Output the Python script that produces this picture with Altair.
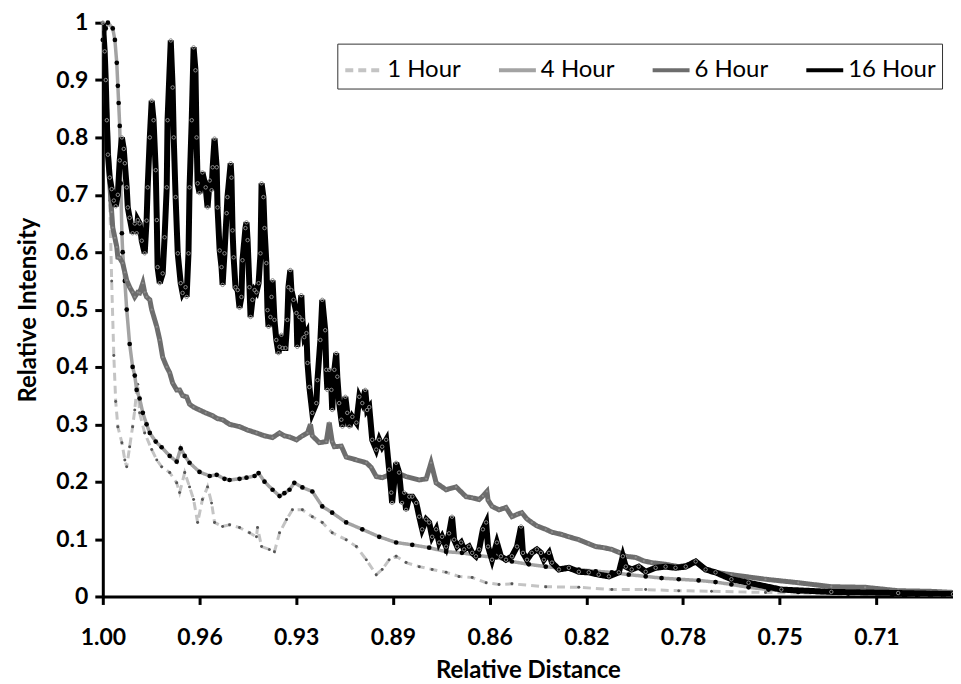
import altair as alt
import pandas as pd

SERIES = ["1 Hour", "4 Hour", "6 Hour", "16 Hour"]
COLORS = ["#c4c4c4", "#a3a3a3", "#6d6d6d", "#000000"]
DASHES = [[8, 5], [1, 0], [1, 0], [1, 0]]
X_TICKS = [1.0, 0.964, 0.928, 0.892, 0.856, 0.82, 0.784, 0.748, 0.712]
Y_TICKS = [0, 0.1, 0.2, 0.3, 0.4, 0.5, 0.6, 0.7, 0.8, 0.9, 1.0]

# ---- 1 Hour ----
h1_x = [1.0, 0.9993, 0.9985, 0.9981, 0.9974, 0.9967, 0.9959, 0.9952, 0.9944, 0.9929,
        0.9918, 0.9911, 0.9900, 0.9889, 0.9881, 0.9874, 0.9870, 0.9863, 0.9844, 0.9818,
        0.9799, 0.9781, 0.9751, 0.9725, 0.9714, 0.9695, 0.9677, 0.9662, 0.9647, 0.9629,
        0.9610, 0.9595, 0.9584, 0.9554, 0.9528, 0.9491, 0.9454, 0.9428, 0.9424, 0.9409,
        0.9380, 0.9361, 0.9342, 0.9316, 0.9294, 0.9257, 0.9220, 0.9183, 0.9146, 0.9094,
        0.9056, 0.9019, 0.8982, 0.8960, 0.8934, 0.8908, 0.8871, 0.8822, 0.8774, 0.8722,
        0.8674, 0.8625, 0.8573, 0.8525, 0.8477, 0.8351, 0.8228, 0.8105, 0.7979, 0.7856,
        0.7734, 0.7533, 0.7288, 0.7039, 0.6835]
h1_y = [1.0, 0.92, 0.85, 0.80, 0.69, 0.55, 0.42, 0.34, 0.296, 0.268,
        0.238, 0.226, 0.261, 0.296, 0.325, 0.36, 0.37, 0.32, 0.285, 0.256,
        0.238, 0.226, 0.216, 0.198, 0.181, 0.216, 0.191, 0.169, 0.129, 0.169,
        0.191, 0.163, 0.129, 0.122, 0.125, 0.12, 0.111, 0.104, 0.12, 0.087,
        0.082, 0.078, 0.111, 0.134, 0.151, 0.151, 0.139, 0.129, 0.111, 0.099,
        0.087, 0.064, 0.038, 0.047, 0.064, 0.07, 0.059, 0.052, 0.047, 0.042,
        0.035, 0.033, 0.024, 0.021, 0.022, 0.017, 0.016, 0.012, 0.012, 0.01,
        0.009, 0.007, 0.005, 0.003, 0.002]

# ---- 4 Hour ----
h4_x = [1.0, 0.9989, 0.9981, 0.9963, 0.9955, 0.9948, 0.9944, 0.9941, 0.9937, 0.9933,
        0.9929, 0.9926, 0.9918, 0.9911, 0.9900, 0.9889, 0.9881, 0.9874, 0.9863, 0.9851,
        0.9837, 0.9825, 0.9803, 0.9781, 0.9751, 0.9725, 0.9710, 0.9695, 0.9677, 0.9640,
        0.9602, 0.9576, 0.9547, 0.9528, 0.9491, 0.9465, 0.9435, 0.9420, 0.9398, 0.9368,
        0.9342, 0.9324, 0.9305, 0.9287, 0.9257, 0.9220, 0.9183, 0.9146, 0.9094, 0.9034,
        0.8971, 0.8908, 0.8848, 0.8785, 0.8722, 0.8663, 0.8599, 0.8536, 0.8477, 0.8414,
        0.8351, 0.8291, 0.8228, 0.8165, 0.8105, 0.8042, 0.7979, 0.7920, 0.7856, 0.7782,
        0.7719, 0.7660, 0.7596, 0.7522, 0.7411, 0.7225, 0.7039, 0.6835]
h4_y = [0.97, 0.99, 1.0, 0.99, 0.97, 0.93, 0.89, 0.86, 0.82, 0.72,
        0.633, 0.60, 0.55, 0.50, 0.44, 0.40, 0.385, 0.36, 0.345, 0.32,
        0.30, 0.285, 0.27, 0.26, 0.245, 0.235, 0.258, 0.245, 0.233, 0.217,
        0.21, 0.212, 0.205, 0.203, 0.205, 0.207, 0.21, 0.215, 0.20, 0.186,
        0.175, 0.18, 0.186, 0.198, 0.19, 0.183, 0.157, 0.146, 0.129, 0.117,
        0.104, 0.094, 0.09, 0.085, 0.078, 0.076, 0.071, 0.068, 0.061, 0.056,
        0.052, 0.049, 0.047, 0.044, 0.042, 0.038, 0.035, 0.032, 0.03, 0.028,
        0.025, 0.021, 0.016, 0.012, 0.008, 0.005, 0.004, 0.003]

# ---- 6 Hour ----
h6_x = [1.0, 0.9996, 0.9989, 0.9981, 0.9974, 0.9967, 0.9963, 0.9955, 0.9948, 0.9944,
        0.9937, 0.9926, 0.9918, 0.9911, 0.9900, 0.9889, 0.9881, 0.9870, 0.9863, 0.9851,
        0.9844, 0.9837, 0.9825, 0.9818, 0.9799, 0.9788, 0.9777, 0.9762, 0.9751, 0.9740,
        0.9725, 0.9714, 0.9703, 0.9688, 0.9677, 0.9662, 0.9640, 0.9617, 0.9591, 0.9573,
        0.9554, 0.9528, 0.9491, 0.9461, 0.9428, 0.9398, 0.9368, 0.9342, 0.9324, 0.9305,
        0.9279, 0.9257, 0.9238, 0.9227, 0.9220, 0.9194, 0.9168, 0.9157, 0.9146, 0.9138,
        0.9112, 0.9094, 0.9056, 0.9019, 0.9001, 0.8982, 0.8960, 0.8934, 0.8908, 0.8871,
        0.8822, 0.8796, 0.8778, 0.8759, 0.8722, 0.8685, 0.8648, 0.8625, 0.8599, 0.8585,
        0.8570, 0.8566, 0.8551, 0.8525, 0.8499, 0.8477, 0.8458, 0.8440, 0.8421, 0.8403,
        0.8384, 0.8351, 0.8328, 0.8291, 0.8265, 0.8228, 0.8191, 0.8165, 0.8135, 0.8105,
        0.8079, 0.8053, 0.8016, 0.7986, 0.7957, 0.7905, 0.7856, 0.7819, 0.7793, 0.7764,
        0.7734, 0.7660, 0.7533, 0.7411, 0.7288, 0.7162, 0.7039, 0.6917, 0.6835]
h6_y = [1.0, 0.95, 0.88, 0.80, 0.72, 0.67, 0.643, 0.625, 0.609, 0.591,
        0.59, 0.581, 0.565, 0.551, 0.539, 0.53, 0.522, 0.53, 0.529, 0.546,
        0.53, 0.522, 0.517, 0.50, 0.47, 0.447, 0.417, 0.40, 0.39, 0.372,
        0.36, 0.36, 0.35, 0.348, 0.335, 0.33, 0.325, 0.32, 0.315, 0.31,
        0.308, 0.30, 0.296, 0.29, 0.285, 0.28, 0.277, 0.285, 0.28, 0.278,
        0.273, 0.28, 0.285, 0.30, 0.28, 0.268, 0.27, 0.303, 0.27, 0.261,
        0.262, 0.243, 0.238, 0.233, 0.225, 0.209, 0.207, 0.212, 0.216, 0.209,
        0.203, 0.205, 0.233, 0.198, 0.186, 0.191, 0.174, 0.172, 0.169, 0.175,
        0.183, 0.168, 0.157, 0.151, 0.155, 0.139, 0.143, 0.146, 0.135, 0.129,
        0.123, 0.117, 0.112, 0.108, 0.104, 0.099, 0.092, 0.087, 0.085, 0.082,
        0.077, 0.07, 0.068, 0.062, 0.059, 0.056, 0.052, 0.055, 0.061, 0.05,
        0.043, 0.038, 0.03, 0.024, 0.017, 0.016, 0.01, 0.009, 0.007]

# ---- 16 Hour ----
h16_x = [1.0, 0.9993, 0.9989, 0.9985, 0.9981, 0.9974, 0.9967, 0.9959, 0.9952, 0.9944,
         0.9937, 0.9929, 0.9922, 0.9918, 0.9911, 0.9907, 0.9900, 0.9889, 0.9881, 0.9874,
         0.9870, 0.9863, 0.9855, 0.9844, 0.9837, 0.9833, 0.9825, 0.9818, 0.9811, 0.9803,
         0.9799, 0.9796, 0.9788, 0.9777, 0.9770, 0.9762, 0.9759, 0.9747, 0.9740, 0.9736,
         0.9729, 0.9721, 0.9710, 0.9703, 0.9692, 0.9688, 0.9681, 0.9677, 0.9669, 0.9662,
         0.9655, 0.9651, 0.9647, 0.9640, 0.9629, 0.9617, 0.9610, 0.9602, 0.9595, 0.9591,
         0.9584, 0.9576, 0.9573, 0.9565, 0.9558, 0.9554, 0.9547, 0.9539, 0.9536, 0.9524,
         0.9521, 0.9517, 0.9513, 0.9506, 0.9498, 0.9491, 0.9484, 0.9480, 0.9469, 0.9465,
         0.9461, 0.9454, 0.9450, 0.9443, 0.9435, 0.9428, 0.9420, 0.9413, 0.9409, 0.9402,
         0.9398, 0.9391, 0.9387, 0.9383, 0.9376, 0.9372, 0.9368, 0.9361, 0.9354, 0.9346,
         0.9342, 0.9335, 0.9331, 0.9320, 0.9313, 0.9309, 0.9302, 0.9298, 0.9290, 0.9279,
         0.9276, 0.9268, 0.9261, 0.9257, 0.9250, 0.9242, 0.9238, 0.9231, 0.9220, 0.9205,
         0.9201, 0.9190, 0.9183, 0.9172, 0.9168, 0.9164, 0.9157, 0.9149, 0.9146, 0.9138,
         0.9131, 0.9127, 0.9120, 0.9112, 0.9108, 0.9097, 0.9090, 0.9082, 0.9071, 0.9056,
         0.9045, 0.9034, 0.9023, 0.9016, 0.9008, 0.8997, 0.8982, 0.8971, 0.8960, 0.8945,
         0.8934, 0.8926, 0.8923, 0.8908, 0.8897, 0.8886, 0.8878, 0.8871, 0.8859, 0.8848,
         0.8833, 0.8822, 0.8811, 0.8796, 0.8785, 0.8774, 0.8759, 0.8748, 0.8737, 0.8722,
         0.8711, 0.8700, 0.8692, 0.8681, 0.8666, 0.8655, 0.8637, 0.8625, 0.8611, 0.8599,
         0.8585, 0.8573, 0.8566, 0.8551, 0.8533, 0.8518, 0.8499, 0.8477, 0.8458, 0.8443,
         0.8436, 0.8421, 0.8403, 0.8384, 0.8369, 0.8358, 0.8339, 0.8328, 0.8302, 0.8265,
         0.8228, 0.8191, 0.8154, 0.8116, 0.8079, 0.8064, 0.8053, 0.8031, 0.8005, 0.7979,
         0.7942, 0.7905, 0.7868, 0.7830, 0.7793, 0.7756, 0.7719, 0.7660, 0.7596, 0.7474,
         0.7288, 0.7039, 0.6835]
h16_y = [1.0, 0.95, 0.90, 0.83, 0.77, 0.73, 0.71, 0.69, 0.68, 0.70,
         0.76, 0.80, 0.78, 0.755, 0.713, 0.678, 0.66, 0.633, 0.65, 0.633,
         0.656, 0.65, 0.62, 0.598, 0.655, 0.713, 0.80, 0.864, 0.83, 0.743,
         0.656, 0.574, 0.546, 0.563, 0.626, 0.713, 0.83, 0.969, 0.887, 0.80,
         0.696, 0.598, 0.546, 0.529, 0.539, 0.522, 0.598, 0.713, 0.83, 0.957,
         0.917, 0.80, 0.72, 0.703, 0.739, 0.713, 0.678, 0.725, 0.708, 0.748,
         0.798, 0.748, 0.678, 0.603, 0.574, 0.543, 0.598, 0.668, 0.696, 0.755,
         0.73, 0.638, 0.591, 0.539, 0.534, 0.503, 0.522, 0.586, 0.642, 0.652,
         0.621, 0.539, 0.487, 0.517, 0.534, 0.530, 0.546, 0.598, 0.72, 0.696,
         0.642, 0.581, 0.499, 0.47, 0.487, 0.522, 0.551, 0.482, 0.447, 0.424,
         0.435, 0.456, 0.433, 0.433, 0.482, 0.539, 0.569, 0.534, 0.517, 0.494,
         0.435, 0.487, 0.525, 0.482, 0.452, 0.459, 0.407, 0.365, 0.32, 0.337,
         0.377, 0.447, 0.517, 0.464, 0.395, 0.36, 0.395, 0.36, 0.325, 0.395,
         0.424, 0.383, 0.337, 0.308, 0.296, 0.348, 0.32, 0.296, 0.313, 0.303,
         0.348, 0.337, 0.36, 0.325, 0.33, 0.273, 0.256, 0.273, 0.261, 0.273,
         0.221, 0.181, 0.163, 0.233, 0.216, 0.163, 0.181, 0.151, 0.174, 0.174,
         0.163, 0.139, 0.117, 0.134, 0.129, 0.104, 0.117, 0.094, 0.104, 0.087,
         0.11, 0.139, 0.099, 0.087, 0.094, 0.082, 0.087, 0.076, 0.07, 0.082,
         0.117, 0.129, 0.087, 0.064, 0.094, 0.07, 0.064, 0.07, 0.087, 0.122,
         0.076, 0.064, 0.076, 0.082, 0.076, 0.064, 0.076, 0.059, 0.047, 0.05,
         0.043, 0.042, 0.038, 0.035, 0.042, 0.07, 0.052, 0.047, 0.052, 0.043,
         0.05, 0.052, 0.05, 0.052, 0.061, 0.047, 0.042, 0.03, 0.024, 0.012,
         0.008, 0.006, 0.004]

SERIES_DATA = {"1 Hour": (h1_x, h1_y), "4 Hour": (h4_x, h4_y),
               "6 Hour": (h6_x, h6_y), "16 Hour": (h16_x, h16_y)}

rows = []
for name, (xs, ys) in SERIES_DATA.items():
    for xv, yv in zip(xs, ys):
        rows.append({"series": name, "dist": xv, "inten": yv})
df = pd.DataFrame(rows)

FONT = "Lato"

x_enc = alt.X("dist:Q",
              scale=alt.Scale(domain=[0.6835, 1.0], reverse=True, nice=False, zero=False),
              axis=alt.Axis(values=X_TICKS, format=".2f", title="Relative Distance",
                            labelPadding=22, titlePadding=9, labelFlush=False))
y_enc = alt.Y("inten:Q",
              scale=alt.Scale(domain=[0, 1], nice=False),
              axis=alt.Axis(values=Y_TICKS, format="~g", title="Relative Intensity",
                            labelPadding=7, titlePadding=15, labelFlush=False))

legend = alt.Legend(orient="none", legendX=235, legendY=21, direction="horizontal",
                    columns=4, symbolType="stroke", symbolSize=1369, symbolStrokeWidth=4,
                    labelFont=FONT, labelFontSize=24, labelColor="black", labelOffset=3,
                    strokeColor="#333333", fillColor="white", padding=6,
                    columnPadding=30, title=None, offset=0)

color_enc = alt.Color("series:N", scale=alt.Scale(domain=SERIES, range=COLORS), legend=legend)
dash_enc = alt.StrokeDash("series:N", scale=alt.Scale(domain=SERIES, range=DASHES), legend=legend)

base = alt.Chart(df)

WIDTHS = {"1 Hour": 3, "4 Hour": 3.5, "6 Hour": 5, "16 Hour": 6}
layers = []
for name in SERIES:
    sub = base.transform_filter(alt.datum.series == name)
    layers.append(sub.mark_line(strokeWidth=WIDTHS[name], clip=True)
                  .encode(x=x_enc, y=y_enc, color=color_enc, strokeDash=dash_enc))
    if name == "1 Hour":
        pts = sub.mark_point(filled=True, size=9, color="#555555", opacity=1)
    elif name == "4 Hour":
        pts = sub.mark_point(filled=True, size=22, color="#000000", opacity=1)
    elif name == "6 Hour":
        pts = sub.mark_point(filled=True, size=5, color="#8c8c8c", opacity=1)
    else:
        pts = sub.mark_point(filled=False, size=12, color="#8a8a8a", strokeWidth=1, opacity=1)
    layers.append(pts.encode(x=x_enc, y=y_enc))

chart = alt.layer(*layers).properties(
    width=852, height=575,
    autosize=alt.AutoSizeParams(type="none"),
    padding={"left": 95, "top": 14, "right": 0, "bottom": 86},
    background="white",
).configure_view(stroke=None).configure_axis(
    domainColor="black", domainWidth=3, tickColor="black", tickWidth=3, tickSize=8,
    labelFont=FONT, labelFontWeight="bold", labelFontSize=23, labelColor="black",
    titleFont=FONT, titleFontWeight="bold", titleFontSize=24, titleColor="black",
    grid=False,
)

chart.save("out.html", embed_options={"renderer": "svg", "actions": False})
